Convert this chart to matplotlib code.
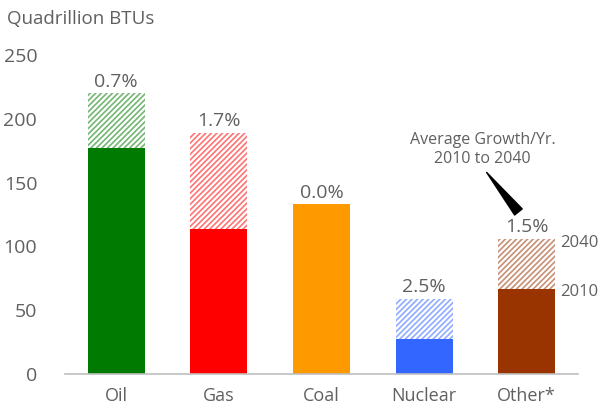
import matplotlib.pyplot as plt
import matplotlib as mpl

plt.rcParams['font.family'] = ['Open Sans', 'DejaVu Sans']
mpl.rcParams['hatch.linewidth'] = 1.2

categories = ['Oil', 'Gas', 'Coal', 'Nuclear', 'Other*']
values_2010 = [177, 114, 133, 27.5, 66.5]
values_2040 = [220, 189, 133, 59, 106]
growth = ['0.7%', '1.7%', '0.0%', '2.5%', '1.5%']
colors = ['#007a00', '#ff0000', '#ff9900', '#3366ff', '#993300']
yticks = [0, 50, 100, 150, 200, 250]

grey = '#606060'

fig = plt.figure(figsize=(6.02, 4.12), dpi=100)
ax = fig.add_axes([0.108, 0.0922, 0.852, 0.7743])

x = list(range(len(categories)))
w = 0.555

# 2010 solid part
ax.bar(x, values_2010, width=w, color=colors, linewidth=0)

# 2040 growth part, hatched
for i in x:
    extra = values_2040[i] - values_2010[i]
    if extra > 0:
        c = mpl.colors.to_rgba(colors[i], 0.55)
        ax.bar(i, extra, bottom=values_2010[i], width=w, facecolor='white',
               edgecolor=c, hatch='//////', linewidth=0)
    ax.text(i, values_2040[i] + 2, growth[i], ha='center', va='bottom',
            fontsize=14, color=grey)

ax.set_xlim(-0.5, 4.5)
ax.set_ylim(0, 250)
ax.set_yticks(yticks)
ax.set_xticks(x)
ax.set_xticklabels(categories)
ax.tick_params(axis='both', length=0, labelsize=13, labelcolor=grey)
ax.tick_params(axis='y', labelsize=14, pad=20)
ax.tick_params(axis='x', pad=9)
for s in ['top', 'right', 'left']:
    ax.spines[s].set_visible(False)
ax.spines['bottom'].set_color('#bfbfbf')
ax.spines['bottom'].set_linewidth(1.2)

fig.text(0.012, 0.955, 'Quadrillion BTUs', fontsize=13.5, color=grey,
         ha='left', va='center')

# legend-like labels to the right of the Other bar
ax.text(4.33, 103, '2040', fontsize=12, color=grey, va='center', ha='left')
ax.text(4.33, 64, '2010', fontsize=12, color=grey, va='center', ha='left')

ax.text(3.57, 176, 'Average Growth/Yr.\n2010 to 2040', ha='center', va='center',
        fontsize=11.5, color=grey, linespacing=1.3)
ax.annotate('', xy=(3.61, 158), xytext=(3.92, 127),
            arrowprops=dict(arrowstyle='wedge,tail_width=0.7', color='black',
                            shrinkA=0, shrinkB=0))

fig.savefig('out.png', dpi=100)
